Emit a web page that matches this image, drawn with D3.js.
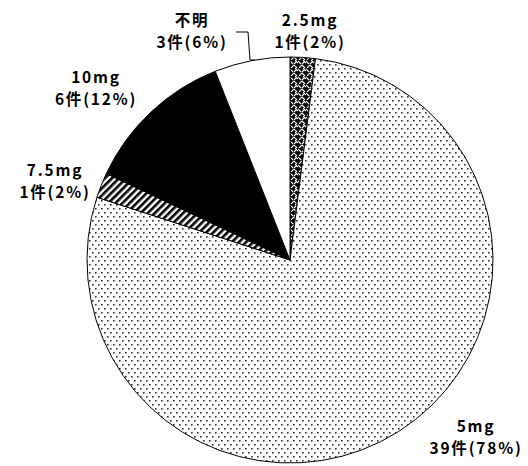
<!DOCTYPE html>
<html>
<head>
<meta charset="utf-8">
<script src="https://cdn.jsdelivr.net/npm/d3@7/dist/d3.min.js"></script>
<style>
  html, body { margin: 0; padding: 0; background: #fff; }
  svg { display: block; }
  text { font-family: "Noto Sans CJK JP", "Noto Sans", sans-serif; font-weight: 700; fill: #000; }
</style>
</head>
<body>
<svg id="chart" width="528" height="466"></svg>
<script>
// Dose categories, in clockwise order from 12 o'clock
const categories = ["2.5mg", "5mg", "7.5mg", "10mg", "不明"];
// Number of cases per dose
const counts = [1, 39, 1, 6, 3];
// Share of all cases, in percent
const percents = [2, 78, 2, 12, 6];

const W = 528, H = 466;
const cx = 290, cy = 260, R = 203;

const svg = d3.select("#chart");
const defs = svg.append("defs");

// fine staggered dot screen
const dots = defs.append("pattern").attr("id", "pat-dots")
  .attr("patternUnits", "userSpaceOnUse").attr("width", 6).attr("height", 8);
dots.append("rect").attr("width", 6).attr("height", 8).attr("fill", "#fff");
dots.append("rect").attr("x", 0).attr("y", 0).attr("width", 1.6).attr("height", 1.6).attr("fill", "#333");
dots.append("rect").attr("x", 3).attr("y", 4).attr("width", 1.6).attr("height", 1.6).attr("fill", "#333");

// diagonal hatch
const hatch = defs.append("pattern").attr("id", "pat-hatch")
  .attr("patternUnits", "userSpaceOnUse").attr("width", 5).attr("height", 5)
  .attr("patternTransform", "rotate(45)");
hatch.append("rect").attr("width", 5).attr("height", 5).attr("fill", "#fff");
hatch.append("rect").attr("x", 0).attr("y", 0).attr("width", 2.6).attr("height", 5).attr("fill", "#000");

// basket weave
const weave = defs.append("pattern").attr("id", "pat-weave")
  .attr("patternUnits", "userSpaceOnUse").attr("width", 8).attr("height", 8);
weave.append("rect").attr("width", 8).attr("height", 8).attr("fill", "#000");
weave.append("path").attr("d", "M0,1 L3,4 M5,0 L8,3 M1,8 L4,5 M4,5 L7,8 M4,4 L7,1")
  .attr("stroke", "#fff").attr("stroke-width", 1.1).attr("fill", "none");

const fills = ["url(#pat-weave)", "url(#pat-dots)", "url(#pat-hatch)", "#000", "#fff"];

const data = categories.map((c, i) => ({ cat: c, count: counts[i], pct: percents[i], fill: fills[i] }));

const pie = d3.pie().value(d => d.pct).sort(null);
const arc = d3.arc().innerRadius(0).outerRadius(R);
const arcs = pie(data);

const g = svg.append("g").attr("transform", `translate(${cx},${cy})`);
g.selectAll("path.slice").data(arcs).join("path")
  .attr("class", "slice")
  .attr("d", arc)
  .attr("fill", d => d.data.fill)
  .attr("stroke", "#000")
  .attr("stroke-width", 1);

// label anchors (centre of the two-line block, page coordinates)
const labelAt = {
  "2.5mg": [310, 18],
  "5mg": [476, 424],
  "7.5mg": [55, 168],
  "10mg": [96, 75],
  "不明": [192, 18]
};

const lab = svg.append("g");
arcs.forEach(a => {
  const [x, y] = labelAt[a.data.cat];
  lab.append("text").attr("text-anchor", "middle")
    .attr("font-size", 15.5).attr("letter-spacing", 1.8)
    .attr("x", x).attr("y", y + 8).text(a.data.cat);
  lab.append("text").attr("text-anchor", "middle")
    .attr("font-size", 15.5).attr("letter-spacing", 1.8)
    .attr("x", x).attr("y", y + 30)
    .text(`${a.data.count}件(${a.data.pct}%)`);
});

// leader line for the small "不明" slice
const unk = arcs[4];
const ang = unk.startAngle + (unk.endAngle - unk.startAngle) * 0.54;
const ex = cx + R * Math.sin(ang), ey = cy - R * Math.cos(ang);
svg.append("path")
  .attr("d", d3.line()([[236, 32], [248, 32], [250, ey], [ex, ey]]))
  .attr("fill", "none").attr("stroke", "#000").attr("stroke-width", 1);
</script>
</body>
</html>
